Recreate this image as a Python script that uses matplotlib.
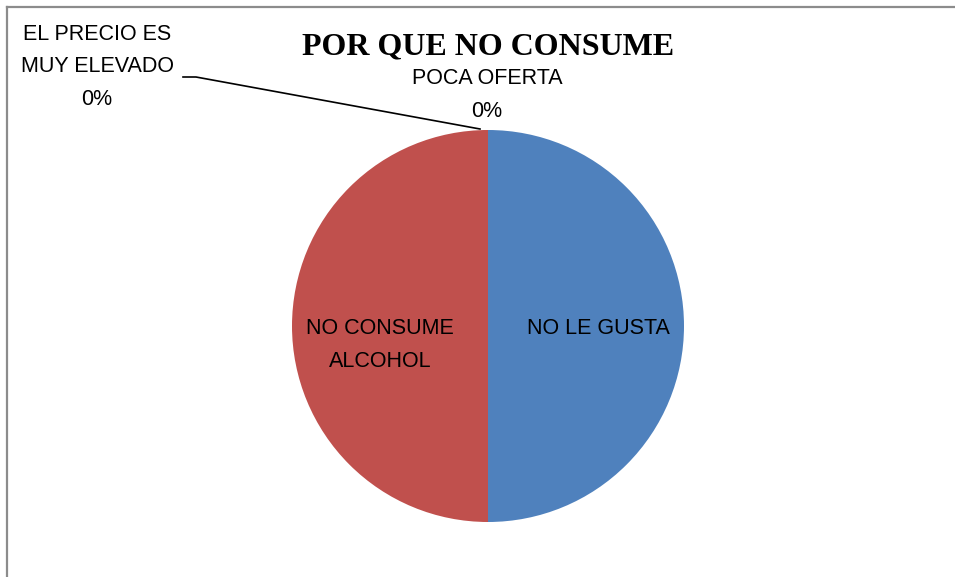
import matplotlib.pyplot as plt
from matplotlib.lines import Line2D

# Data (clockwise from 12 o'clock, like the original spreadsheet chart)
labels = ['NO LE GUSTA', 'NO CONSUME\nALCOHOL', 'POCA OFERTA', 'EL PRECIO ES\nMUY ELEVADO']
values = [50, 50, 0, 0]
colors = ['#4F81BD', '#C0504D', '#9BBB59', '#8064A2']
title = 'POR QUE NO CONSUME'

W, H = 955, 577
fig = plt.figure(figsize=(W / 100, H / 100), dpi=100)
ax = fig.add_axes([0, 0, 1, 1])

# pie centre / radius in pixel units (y up)
cx, cy, r = 488, H - 326, 196
ax.pie(values, colors=colors, startangle=90, counterclock=False,
       center=(cx, cy), radius=r, wedgeprops=dict(linewidth=0))
ax.set_xlim(0, W)
ax.set_ylim(0, H)
ax.set_aspect('equal')
ax.axis('off')

total = sum(values)
pct = [f'{v / total:.0%}' for v in values]
font = dict(family='Liberation Sans', fontsize=15.5, color='black', linespacing=1.7)

# big slices: name only
ax.text(598, H - 328, labels[0], ha='center', va='center', **font)
ax.text(380, H - 345, labels[1], ha='center', va='center', **font)
# zero slices: name + percent
ax.text(487, H - 95, labels[2] + '\n' + pct[2], ha='center', va='center', **font)
ax.text(97, H - 67, labels[3] + '\n' + pct[3], ha='center', va='center', **font)
ax.plot([183, 196, 480], [H - 77, H - 77, H - 129], color='black', lw=1.2)

fig.text(488 / W, 1 - 47 / H, title, ha='center', va='center',
         family='Liberation Serif', fontweight='bold', fontsize=23)

# chart frame (only top and left edges visible)
frame = dict(color='#8C8C8C', lw=1.6, transform=fig.transFigure)
fig.add_artist(Line2D([7 / W, 1], [1 - 7 / H, 1 - 7 / H], **frame))
fig.add_artist(Line2D([7 / W, 7 / W], [0, 1 - 7 / H], **frame))

fig.savefig('out.png', dpi=100)
